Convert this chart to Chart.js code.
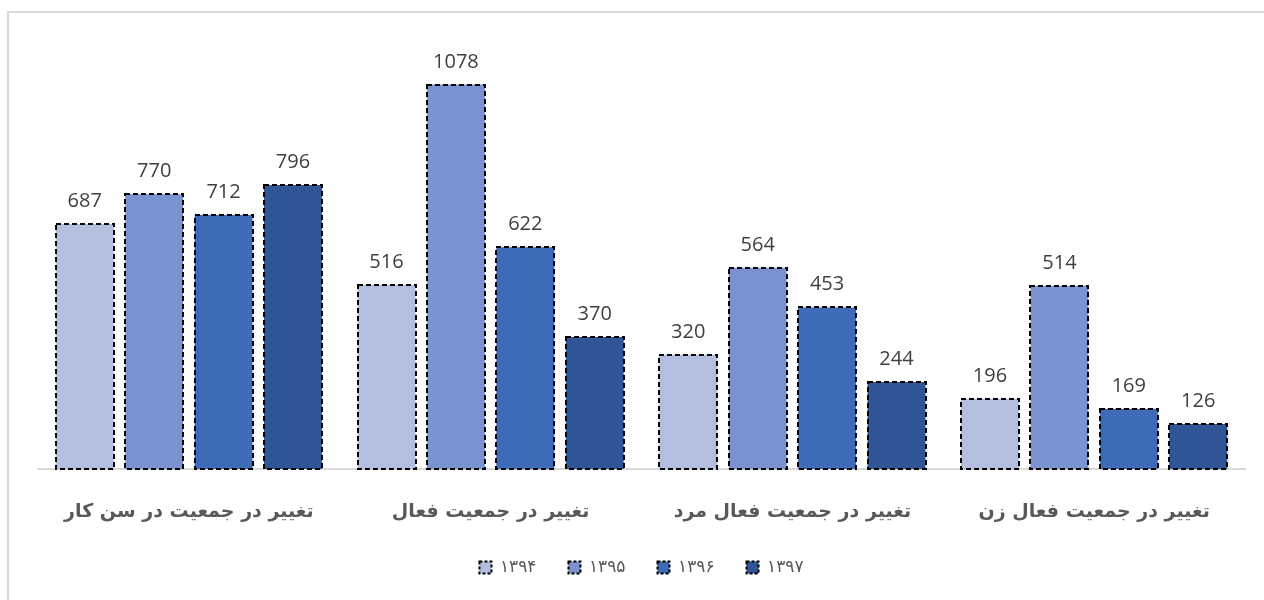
<!DOCTYPE html>
<html>
<head>
<meta charset="utf-8">
<script src="https://cdn.jsdelivr.net/npm/chart.js@4/dist/chart.umd.min.js"></script>
<style>
  html, body { margin: 0; padding: 0; background: #fff; overflow: hidden; }
  #wrap { position: relative; width: 1264px; height: 600px; }
  #frame {
    position: absolute; left: 7px; top: 11px; width: 1280px; height: 620px;
    border: 2px solid #d9d9d9; box-sizing: border-box;
  }
  canvas { position: absolute; left: 0; top: 0; }
</style>
</head>
<body>
<div id="wrap">
  <div id="frame"></div>
  <canvas id="chart" width="1264" height="600"></canvas>
</div>
<script>
// categories, drawn left to right as in the picture
const categories = [
  'تغییر در جمعیت در سن کار',
  'تغییر در جمعیت فعال',
  'تغییر در جمعیت فعال مرد',
  'تغییر در جمعیت فعال زن'
];
const years = ['۱۳۹۴', '۱۳۹۵', '۱۳۹۶', '۱۳۹۷'];
const values1394 = [687, 516, 320, 196];
const values1395 = [770, 1078, 564, 514];
const values1396 = [712, 622, 453, 169];
const values1397 = [796, 370, 244, 126];
const colors = ['#b4bfe0', '#7a92cf', '#3e6bb8', '#2f5597'];

const seriesValues = [values1394, values1395, values1396, values1397];

// bars can't do dashed borders natively, so outline them after drawing
const dashedBars = {
  id: 'dashedBars',
  afterDatasetsDraw(chart) {
    const ctx = chart.ctx;
    ctx.save();
    ctx.strokeStyle = '#000';
    ctx.lineWidth = 2;
    ctx.setLineDash([5, 3]);
    chart.data.datasets.forEach((ds, i) => {
      chart.getDatasetMeta(i).data.forEach((bar) => {
        const left = Math.round(bar.x - bar.width / 2);
        const top = Math.round(bar.y);
        ctx.strokeRect(left, top, Math.round(bar.width), Math.round(bar.base) - top);
      });
    });
    ctx.restore();
  }
};

// value labels above each bar
const barLabels = {
  id: 'barLabels',
  afterDatasetsDraw(chart) {
    const ctx = chart.ctx;
    ctx.save();
    ctx.fillStyle = '#404040';
    ctx.font = '20px "Open Sans", "Noto Sans", sans-serif';
    ctx.textAlign = 'center';
    ctx.textBaseline = 'alphabetic';
    chart.data.datasets.forEach((ds, i) => {
      chart.getDatasetMeta(i).data.forEach((bar, j) => {
        ctx.fillText(String(ds.data[j]), bar.x, bar.y - 17);
      });
    });
    ctx.restore();
  }
};

new Chart(document.getElementById('chart'), {
  type: 'bar',
  data: {
    labels: categories,
    datasets: years.map((y, i) => ({
      label: y,
      data: seriesValues[i],
      backgroundColor: colors[i],
      borderWidth: 0,
      categoryPercentage: 0.92,
      barPercentage: 0.835
    }))
  },
  options: {
    responsive: false,
    animation: false,
    layout: { padding: { left: 38, right: 19, top: 41, bottom: 14 } },
    scales: {
      x: {
        grid: { display: false },
        border: { display: true, color: '#d9d9d9', width: 2 },
        ticks: {
          color: '#595959',
          padding: 24,
          font: { family: '"DejaVu Sans", sans-serif', size: 19, weight: 'bold' }
        },
        afterFit(scale) { scale.height = 58; }
      },
      y: {
        display: false,
        min: 0,
        max: 1200
      }
    },
    plugins: {
      tooltip: { enabled: false },
      legend: {
        position: 'bottom',
        labels: {
          color: '#595959',
          boxWidth: 12,
          boxHeight: 12,
          padding: 32,
          font: { family: '"DejaVu Sans", sans-serif', size: 17 },
          generateLabels(chart) {
            return chart.data.datasets.map((ds, i) => ({
              text: ds.label,
              fillStyle: ds.backgroundColor,
              strokeStyle: '#000',
              lineWidth: 2,
              lineDash: [3, 2],
              fontColor: '#595959',
              datasetIndex: i
            }));
          }
        }
      }
    }
  },
  plugins: [dashedBars, barLabels]
});
</script>
</body>
</html>
